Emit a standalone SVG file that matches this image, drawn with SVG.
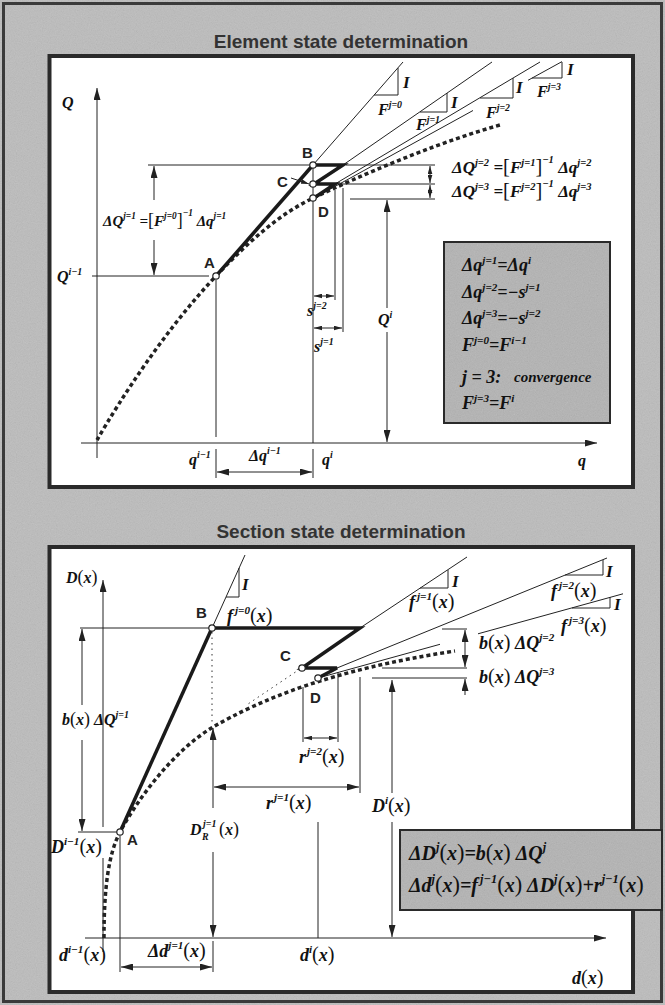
<svg xmlns="http://www.w3.org/2000/svg" width="665" height="1005" viewBox="0 0 665 1005">
<style>
.bg{fill:#bcbcbc}
.noise{filter:url(#grain);opacity:0.22}
.frame{fill:none;stroke:#3a3a3a;stroke-width:3}
.panel{fill:#fff;stroke:#2a2a2a;stroke-width:4}
.fbox{fill:#b3b3b3;stroke:#2a2a2a;stroke-width:2}
.title{font-family:"Liberation Sans",Arial,sans-serif;font-weight:bold;font-size:19px;fill:#333;text-anchor:middle}
.thin{fill:none;stroke:#222;stroke-width:1}
.thick{fill:none;stroke:#1a1a1a;stroke-width:3.5;stroke-linejoin:miter}
.curve{fill:none;stroke:#222;stroke-width:3.5;stroke-dasharray:4 3}
.dot{fill:none;stroke:#333;stroke-width:1;stroke-dasharray:1.5 4}
.ax{fill:none;stroke:#222;stroke-width:1;marker-end:url(#ah)}
.a1{fill:none;stroke:#222;stroke-width:1;marker-end:url(#ah)}
.a2{fill:none;stroke:#222;stroke-width:1;marker-start:url(#ah);marker-end:url(#ah)}
.a2s{fill:none;stroke:#222;stroke-width:1;marker-start:url(#ahs);marker-end:url(#ahs)}
.a1s{fill:none;stroke:#222;stroke-width:1;marker-end:url(#ahs)}
.m{font-family:"Liberation Serif","Times New Roman",serif;font-weight:bold;font-style:italic;font-size:16px;fill:#111}
.f15{font-size:15px}
.f17{font-size:17px}
.f18{font-size:18px}
.f20{font-size:20px}
.s{font-size:0.62em}
.br{font-weight:normal;font-style:normal;font-size:1.2em}
.p{font-weight:normal;font-style:normal;font-size:1.12em}
.lbl{font-family:"Liberation Sans",Arial,sans-serif;font-weight:bold;font-size:15px;fill:#222}
.pt{fill:#fff;stroke:#222;stroke-width:1.2}
</style>
<defs>
<filter id="grain" x="0" y="0" width="100%" height="100%"><feTurbulence type="fractalNoise" baseFrequency="0.85" numOctaves="2" seed="4"/><feColorMatrix type="saturate" values="0"/></filter>
<marker id="ah" viewBox="0 0 12 7" refX="12" refY="3.5" markerWidth="12" markerHeight="7" markerUnits="userSpaceOnUse" orient="auto-start-reverse"><path d="M0,0 L12,3.5 L0,7 z" fill="#222"/></marker>
<marker id="ahs" viewBox="0 0 12 7" refX="12" refY="3.5" markerWidth="8" markerHeight="5" markerUnits="userSpaceOnUse" orient="auto-start-reverse"><path d="M0,0 L12,3.5 L0,7 z" fill="#222"/></marker>
</defs>

<g id="background">
<rect class="bg" x="0" y="0" width="665" height="1005"/>
<rect class="noise" x="0" y="0" width="665" height="1005"/>
<rect class="frame" x="3.5" y="3.5" width="658" height="998"/>
</g>

<g id="title-element"><text class="title" x="341" y="48">Element state determination</text></g>
<g id="panel-element"><rect class="panel" x="49.5" y="56" width="583.5" height="431"/></g>
<g id="title-section"><text class="title" x="341" y="538">Section state determination</text></g>
<g id="panel-section"><rect class="panel" x="49.5" y="547" width="583.5" height="445"/></g>

<g id="connectors">
<!-- element panel -->
<line class="ax" x1="97" y1="458" x2="97" y2="88"/>
<line class="ax" x1="81" y1="443" x2="597" y2="443"/>
<line class="thin" x1="92" y1="276" x2="209" y2="276"/>
<line class="thin" x1="148" y1="165" x2="313" y2="165"/>
<line class="a1" x1="154" y1="200" x2="154" y2="166"/>
<line class="a1" x1="154" y1="240" x2="154" y2="275"/>
<line class="thin" x1="216" y1="280" x2="216" y2="437"/>
<line class="thin" x1="216" y1="449" x2="216" y2="478"/>
<line class="thin" x1="313" y1="168" x2="313" y2="443"/>
<line class="thin" x1="313" y1="449" x2="313" y2="478"/>
<line class="a2" x1="217" y1="472" x2="312" y2="472"/>
<line class="thin" x1="335" y1="190" x2="335" y2="300"/>
<line class="thin" x1="343" y1="188" x2="343" y2="332"/>
<line class="a2s" x1="314" y1="296" x2="334" y2="296"/>
<line class="a2s" x1="314" y1="328" x2="342" y2="328"/>
<line class="thin" x1="346" y1="165" x2="435" y2="165"/>
<line class="thin" x1="338" y1="184" x2="435" y2="184"/>
<line class="thin" x1="350" y1="199" x2="435" y2="199"/>
<line class="a2s" x1="430" y1="166" x2="430" y2="183"/>
<line class="a2s" x1="430" y1="185" x2="430" y2="198"/>
<line class="a1" x1="387" y1="308" x2="387" y2="200"/>
<line class="a1" x1="387" y1="332" x2="387" y2="442"/>
<line class="thin" x1="313" y1="165" x2="403" y2="62"/>
<line class="thin" x1="343" y1="165" x2="492" y2="62"/>
<line class="thin" x1="335" y1="184" x2="540" y2="62"/>
<line class="thin" x1="314" y1="198" x2="473" y2="110.5"/>
<line class="thin" x1="528" y1="80.3" x2="562" y2="61.6"/>
<polyline class="thin" points="374,95 398,95 398,68"/>
<polyline class="thin" points="420,112 447,112 447,93"/>
<polyline class="thin" points="480,98 513,98 513,78"/>
<polyline class="thin" points="532,78 562,78 562,62"/>
<path class="curve" d="M97,440 C120,400 165,330 216,276 C250,240 280,214 313,198 C360,176 430,145 500,125"/>
<line class="thick" x1="216" y1="276" x2="313" y2="165"/>
<polyline class="thick" points="313,165 343,165 314,184 335,184 314,198"/>
<line class="a1s" x1="291" y1="178" x2="309" y2="184"/>

<!-- section panel -->
<line class="thin" x1="103" y1="952" x2="103" y2="858"/>
<line class="ax" x1="103" y1="827" x2="103" y2="580"/>
<line class="ax" x1="85" y1="938" x2="606" y2="938"/>
<line class="thin" x1="80" y1="628" x2="212" y2="628"/>
<line class="a1" x1="82" y1="705" x2="82" y2="629"/>
<line class="a1" x1="82" y1="740" x2="82" y2="831"/>
<line class="thin" x1="78" y1="832" x2="117" y2="832"/>
<line class="thin" x1="120" y1="836" x2="120" y2="972"/>
<line class="dot" x1="212" y1="632" x2="212" y2="724"/>
<line class="a1" x1="213" y1="808" x2="213" y2="728"/>
<line class="a1" x1="213" y1="852" x2="213" y2="937"/>
<line class="thin" x1="213" y1="941" x2="213" y2="972"/>
<line class="a2" x1="121" y1="967" x2="212" y2="967"/>
<line class="a2" x1="214" y1="787" x2="359" y2="787"/>
<line class="thin" x1="360" y1="677" x2="360" y2="793"/>
<line class="a2s" x1="304" y1="738" x2="337" y2="738"/>
<line class="thin" x1="303" y1="687" x2="303" y2="742"/>
<line class="thin" x1="338" y1="672" x2="338" y2="742"/>
<line class="thin" x1="318" y1="822" x2="318" y2="938"/>
<line class="a1" x1="392" y1="793" x2="392" y2="680"/>
<line class="a1" x1="392" y1="822" x2="392" y2="937"/>
<line class="thin" x1="442" y1="629" x2="467" y2="629"/>
<line class="thin" x1="382" y1="668" x2="467" y2="668"/>
<line class="thin" x1="372" y1="678" x2="467" y2="678"/>
<line class="a2" x1="465" y1="630" x2="465" y2="667"/>
<line class="a1" x1="465" y1="695" x2="465" y2="679"/>
<line class="thin" x1="212" y1="628" x2="245" y2="555"/>
<polyline class="thin" points="226,597 239,597 239,568"/>
<line class="thin" x1="360" y1="628" x2="467" y2="557"/>
<polyline class="thin" points="420,588 448,588 448,570"/>
<line class="thin" x1="337" y1="668" x2="607" y2="558"/>
<polyline class="thin" points="565,575 603,575 603,560"/>
<line class="thin" x1="318" y1="678" x2="440" y2="644.3"/>
<line class="thin" x1="478" y1="633.8" x2="623" y2="593.8"/>
<polyline class="thin" points="572,608 610,608 610,597"/>
<line class="dot" x1="300" y1="669" x2="248" y2="704"/>
<path class="curve" d="M104,938 C104,890 108,855 120,832 C140,795 175,750 213,727 C260,700 330,670 455,651"/>
<line class="thick" x1="120" y1="832" x2="212" y2="628"/>
<polyline class="thick" points="212,628 360,628 302,668 337,668 318,678"/>
</g>

<g id="axis-labels-element">
<text class="m" x="62" y="108">Q</text>
<text class="m" x="57" y="282">Q<tspan class="s" dy="-7">i−1</tspan></text>
<text class="m" x="189" y="465">q<tspan class="s" dy="-7">i−1</tspan></text>
<text class="m" x="249" y="461">Δq<tspan class="s" dy="-7">i−1</tspan></text>
<text class="m" x="322" y="465">q<tspan class="s" dy="-7">i</tspan></text>
<text class="m" x="578" y="466">q</text>
<text class="m" x="378" y="325">Q<tspan class="s" dy="-7">i</tspan></text>
<text class="m" x="307" y="316">s<tspan class="s" dy="-7">j=2</tspan></text>
<text class="m" x="314" y="352">s<tspan class="s" dy="-7">j=1</tspan></text>
</g>

<g id="eq-dQ1">
<text class="m f15" x="103" y="226">ΔQ<tspan class="s" dy="-7">j=1</tspan><tspan dy="7"> =</tspan><tspan class="br">[</tspan>F<tspan class="s" dy="-7">j=0</tspan><tspan class="br" dy="7">]</tspan><tspan class="s" dy="-10">−1</tspan><tspan dy="10"> Δq</tspan><tspan class="s" dy="-7">j=1</tspan></text>
</g>
<g id="eq-dQ23">
<text class="m f17" x="452" y="173">ΔQ<tspan class="s" dy="-7">j=2</tspan><tspan dy="7"> =</tspan><tspan class="br">[</tspan>F<tspan class="s" dy="-7">j=1</tspan><tspan class="br" dy="7">]</tspan><tspan class="s" dy="-10">−1</tspan><tspan dy="10"> Δq</tspan><tspan class="s" dy="-7">j=2</tspan></text>
<text class="m f17" x="452" y="197">ΔQ<tspan class="s" dy="-7">j=3</tspan><tspan dy="7"> =</tspan><tspan class="br">[</tspan>F<tspan class="s" dy="-7">j=2</tspan><tspan class="br" dy="7">]</tspan><tspan class="s" dy="-10">−1</tspan><tspan dy="10"> Δq</tspan><tspan class="s" dy="-7">j=3</tspan></text>
</g>

<g id="stiffness-element">
<text class="m f17" x="403" y="88">I</text>
<text class="m" x="378" y="115">F<tspan class="s" dy="-7">j=0</tspan></text>
<text class="m f17" x="451" y="108">I</text>
<text class="m" x="416" y="130">F<tspan class="s" dy="-7">j=1</tspan></text>
<text class="m f17" x="516" y="93">I</text>
<text class="m" x="486" y="118">F<tspan class="s" dy="-7">j=2</tspan></text>
<text class="m f17" x="567" y="75">I</text>
<text class="m" x="537" y="97">F<tspan class="s" dy="-7">j=3</tspan></text>
</g>

<g id="point-A-element"><circle class="pt" cx="216" cy="276" r="3.2"/><text class="lbl" x="204" y="268">A</text></g>
<g id="point-B-element"><circle class="pt" cx="313" cy="165" r="3.2"/><text class="lbl" x="302" y="158">B</text></g>
<g id="point-C-element"><circle class="pt" cx="313" cy="184" r="3.2"/><text class="lbl" x="277" y="187">C</text></g>
<g id="point-D-element"><circle class="pt" cx="313" cy="198" r="3.2"/><text class="lbl" x="318" y="217">D</text></g>

<g id="box-element">
<rect class="fbox" x="444" y="242" width="166" height="181"/>
<rect class="noise" x="445" y="243" width="164" height="179"/>
<text class="m f18" x="462" y="271">Δq<tspan class="s" dy="-7">j=1</tspan><tspan dy="7">=Δq</tspan><tspan class="s" dy="-7">i</tspan></text>
<text class="m f18" x="462" y="298">Δq<tspan class="s" dy="-7">j=2</tspan><tspan dy="7">=−s</tspan><tspan class="s" dy="-7">j=1</tspan></text>
<text class="m f18" x="462" y="324">Δq<tspan class="s" dy="-7">j=3</tspan><tspan dy="7">=−s</tspan><tspan class="s" dy="-7">j=2</tspan></text>
<text class="m f18" x="462" y="351">F<tspan class="s" dy="-7">j=0</tspan><tspan dy="7">=F</tspan><tspan class="s" dy="-7">i−1</tspan></text>
<text class="m f18" x="462" y="383">j = 3:</text>
<text class="m f15" x="514" y="382">convergence</text>
<text class="m f18" x="462" y="409">F<tspan class="s" dy="-7">j=3</tspan><tspan dy="7">=F</tspan><tspan class="s" dy="-7">i</tspan></text>
</g>

<g id="axis-labels-section">
<text class="m" x="66" y="583">D<tspan class="p">(</tspan>x<tspan class="p">)</tspan></text>
<text class="m" x="62" y="725">b<tspan class="p">(</tspan>x<tspan class="p">)</tspan> ΔQ<tspan class="s" dy="-7">j=1</tspan></text>
<text class="m f18" x="51" y="853">D<tspan class="s" dy="-8">i−1</tspan><tspan class="p" dy="8">(</tspan>x<tspan class="p">)</tspan></text>
<text class="m" x="190" y="835">D</text>
<text class="m s" x="203" y="827">j=1</text>
<text class="m s" x="202" y="840">R</text>
<text class="m" x="219" y="835"><tspan class="p">(</tspan>x<tspan class="p">)</tspan></text>
<text class="m f18" x="266" y="809">r<tspan class="s" dx="1" dy="-8">j=1</tspan><tspan class="p" dy="8">(</tspan>x<tspan class="p">)</tspan></text>
<text class="m f18" x="299" y="763">r<tspan class="s" dx="1" dy="-8">j=2</tspan><tspan class="p" dy="8">(</tspan>x<tspan class="p">)</tspan></text>
<text class="m f18" x="372" y="812">D<tspan class="s" dy="-8">i</tspan><tspan class="p" dy="8">(</tspan>x<tspan class="p">)</tspan></text>
<text class="m f18" x="479" y="649">b<tspan class="p">(</tspan>x<tspan class="p">)</tspan> ΔQ<tspan class="s" dy="-8">j=2</tspan></text>
<text class="m f18" x="479" y="683">b<tspan class="p">(</tspan>x<tspan class="p">)</tspan> ΔQ<tspan class="s" dy="-8">j=3</tspan></text>
<text class="m f18" x="59" y="961">d<tspan class="s" dy="-8">i−1</tspan><tspan class="p" dy="8">(</tspan>x<tspan class="p">)</tspan></text>
<text class="m f18" x="148" y="957">Δd<tspan class="s" dy="-8">j=1</tspan><tspan class="p" dy="8">(</tspan>x<tspan class="p">)</tspan></text>
<text class="m f18" x="300" y="961">d<tspan class="s" dy="-8">i</tspan><tspan class="p" dy="8">(</tspan>x<tspan class="p">)</tspan></text>
<text class="m f18" x="572" y="984">d<tspan class="p">(</tspan>x<tspan class="p">)</tspan></text>
</g>

<g id="stiffness-section">
<text class="m f17" x="242" y="590">I</text>
<text class="m f18" x="227" y="622">f<tspan class="s" dx="2" dy="-8">j=0</tspan><tspan class="p" dy="8">(</tspan>x<tspan class="p">)</tspan></text>
<text class="m f17" x="452" y="587">I</text>
<text class="m f18" x="409" y="608">f<tspan class="s" dx="2" dy="-8">j=1</tspan><tspan class="p" dy="8">(</tspan>x<tspan class="p">)</tspan></text>
<text class="m f17" x="606" y="577">I</text>
<text class="m f18" x="551" y="597">f<tspan class="s" dx="2" dy="-8">j=2</tspan><tspan class="p" dy="8">(</tspan>x<tspan class="p">)</tspan></text>
<text class="m f17" x="614" y="610">I</text>
<text class="m f18" x="561" y="632">f<tspan class="s" dx="2" dy="-8">j=3</tspan><tspan class="p" dy="8">(</tspan>x<tspan class="p">)</tspan></text>
</g>

<g id="point-A-section"><circle class="pt" cx="120" cy="832" r="3.2"/><text class="lbl" x="127" y="845">A</text></g>
<g id="point-B-section"><circle class="pt" cx="212" cy="628" r="3.2"/><text class="lbl" x="196" y="618">B</text></g>
<g id="point-C-section"><circle class="pt" cx="302" cy="668" r="3.2"/><text class="lbl" x="280" y="661">C</text></g>
<g id="point-D-section"><circle class="pt" cx="318" cy="678" r="3.2"/><text class="lbl" x="310" y="703">D</text></g>

<g id="box-section">
<rect class="fbox" x="400" y="830" width="262" height="80"/>
<rect class="noise" x="401" y="831" width="260" height="78"/>
<text class="m f20" x="409" y="860">ΔD<tspan class="s" dy="-9">j</tspan><tspan class="p" dy="9">(</tspan>x<tspan class="p">)</tspan>=b<tspan class="p">(</tspan>x<tspan class="p">)</tspan> ΔQ<tspan class="s" dy="-9">j</tspan></text>
<text class="m f20" x="409" y="892">Δd<tspan class="s" dy="-9">j</tspan><tspan class="p" dy="9">(</tspan>x<tspan class="p">)</tspan>=f<tspan class="s" dx="2" dy="-9">j−1</tspan><tspan class="p" dy="9">(</tspan>x<tspan class="p">)</tspan> ΔD<tspan class="s" dy="-9">j</tspan><tspan class="p" dy="9">(</tspan>x<tspan class="p">)</tspan>+r<tspan class="s" dy="-9">j−1</tspan><tspan class="p" dy="9">(</tspan>x<tspan class="p">)</tspan></text>
</g>
</svg>
